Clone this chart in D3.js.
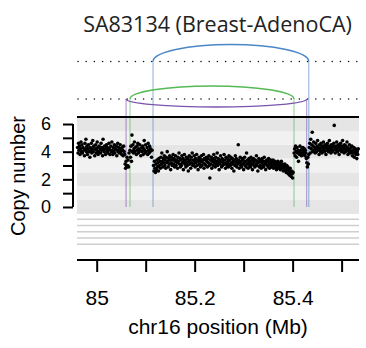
<!DOCTYPE html>
<html>
<head>
<meta charset="utf-8">
<script src="https://cdn.jsdelivr.net/npm/d3@7"></script>
<style>
  body { margin: 0; background: #fff; }
  svg { display: block; }
</style>
</head>
<body>
<svg id="chart" width="366" height="348"></svg>
<script>
// copy number estimates, [position Mb, copy number]
const cnLeft = [
  [84.961,4.3],[84.962,3.9],[84.963,4.6],[84.964,4.1],[84.965,4.4],[84.966,3.8],[84.967,4.2],[84.968,4.7],
  [84.969,4.0],[84.970,4.5],[84.971,3.9],[84.972,4.3],[84.974,4.1],[84.975,3.7],[84.976,4.6],[84.977,4.2],
  [84.978,4.9],[84.979,4.0],[84.980,4.4],[84.981,3.8],[84.982,4.2],[84.983,4.5],[84.985,4.0],[84.986,3.6],
  [84.987,4.3],[84.988,4.1],[84.989,4.6],[84.990,3.9],[84.991,4.2],[84.992,4.8],[84.993,4.0],[84.994,4.4],
  [84.996,3.7],[84.997,4.2],[84.998,4.5],[84.999,3.9],[85.000,4.1],[85.001,4.7],[85.002,4.3],[85.003,3.8],
  [85.004,4.0],[85.005,4.4],[85.007,4.2],[85.008,3.9],[85.009,4.6],[85.010,4.1],[85.011,4.3],[85.012,3.7],
  [85.013,4.9],[85.014,4.2],[85.015,4.0],[85.016,4.4],[85.018,3.8],[85.019,4.2],[85.020,4.5],[85.021,4.0],
  [85.022,4.3],[85.023,3.9],[85.024,4.1],[85.025,4.6],[85.026,4.2],[85.027,3.8],[85.029,4.4],[85.030,4.0],
  [85.031,4.7],[85.032,4.1],[85.033,3.8],[85.034,4.3],[85.035,4.0],[85.036,4.5],[85.037,3.9],[85.038,4.2],
  [85.040,4.4],[85.041,3.7],[85.042,4.1],[85.043,4.6],[85.044,4.0],[85.045,4.3],[85.046,3.9],[85.047,4.2],
  [85.048,4.5],[85.049,4.0],[85.051,3.8],[85.052,4.3],[85.053,4.1],[85.054,3.7],[85.055,4.4],[85.056,4.0]
];
const cnDip = [
  [85.057,3.8],[85.058,3.1],[85.059,2.8],[85.060,3.3],[85.061,2.9],[85.062,3.6],[85.063,3.0],[85.064,3.4],
  [85.065,2.9],[85.066,3.9]
];
const cnLeft2 = [
  [85.068,4.1],[85.069,3.6],[85.070,4.4],[85.071,3.3],[85.072,5.2],[85.073,4.0],[85.074,4.5],[85.075,3.9],
  [85.076,4.2],[85.077,4.7],[85.078,4.0],[85.079,4.3],[85.081,3.8],[85.082,4.4],[85.083,4.1],[85.084,4.6],
  [85.085,3.9],[85.086,4.2],[85.087,4.0],[85.088,4.5],[85.089,4.1],[85.090,3.7],[85.092,4.3],[85.093,4.0],
  [85.094,4.4],[85.095,3.8],[85.096,4.2],[85.097,4.8],[85.098,4.1],[85.099,3.9],[85.100,4.5],[85.101,4.0],
  [85.103,4.3],[85.104,3.8],[85.105,4.6],[85.106,4.1],[85.107,3.9],[85.108,4.4],[85.109,4.0],[85.110,4.2],
  [85.112,3.6],[85.113,4.1]
];
const cnMid = [
  [85.116,3.0],[85.117,2.6],[85.118,3.3],[85.119,2.8],[85.120,2.5],[85.121,3.1],[85.122,2.7],[85.123,3.4],
  [85.124,2.9],[85.125,3.2],[85.126,2.6],[85.127,3.5],[85.128,3.0],[85.129,3.3],[85.130,2.8],[85.131,3.6],
  [85.132,3.1],[85.133,3.9],[85.134,3.3],[85.135,2.9],[85.136,3.5],[85.137,3.2],[85.138,3.7],[85.139,3.0],
  [85.140,3.4],[85.141,2.8],[85.142,3.6],[85.143,3.2],[85.144,4.0],[85.145,3.3],[85.146,2.9],[85.147,3.5],
  [85.148,3.1],[85.149,3.7],[85.150,3.4],[85.151,2.7],[85.152,3.2],[85.153,3.6],[85.154,3.0],[85.155,3.4],
  [85.156,3.8],[85.157,3.1],[85.158,3.5],[85.159,2.9],[85.160,3.3],[85.161,3.7],[85.162,3.0],[85.163,3.4],
  [85.164,3.2],[85.165,2.8],[85.166,3.6],[85.167,3.3],[85.168,3.9],[85.169,3.1],[85.170,3.5],[85.171,2.9],
  [85.172,3.4],[85.173,3.0],[85.174,3.7],[85.175,3.2],[85.176,3.5],[85.177,2.7],[85.178,3.3],[85.179,3.8],
  [85.180,3.1],[85.181,3.4],[85.182,2.9],[85.183,3.6],[85.184,3.2],[85.185,3.0],[85.186,3.5],[85.187,2.6],
  [85.188,3.3],[85.189,3.7],[85.190,3.1],[85.191,3.4],[85.192,2.8],[85.193,3.6],[85.194,3.2],[85.195,3.9],
  [85.196,3.0],[85.197,3.4],[85.198,3.1],[85.199,3.7],[85.200,3.3],[85.201,2.9],[85.202,3.5],[85.203,3.2],
  [85.204,3.8],[85.205,3.0],[85.206,3.4],[85.207,2.7],[85.208,3.3],[85.209,3.6],[85.210,3.1],[85.211,3.5],
  [85.212,2.9],[85.213,3.3],[85.214,3.7],[85.215,3.0],[85.216,3.4],[85.217,3.2],[85.218,3.8],[85.219,2.8],
  [85.220,3.5],[85.221,3.1],[85.222,3.4],[85.223,3.0],[85.224,3.6],[85.225,3.3],[85.226,2.9],[85.227,3.5],
  [85.228,3.2],[85.229,3.7],[85.230,3.0],[85.231,2.1],[85.232,3.4],[85.233,3.1],[85.234,3.6],[85.235,2.8],
  [85.236,3.3],[85.237,3.5],[85.238,3.0],[85.239,3.8],[85.240,3.2],[85.241,3.4],[85.242,2.9],[85.243,3.6],
  [85.244,3.1],[85.245,3.3],[85.246,3.9],[85.247,3.0],[85.248,3.5],[85.249,3.2],[85.250,2.7],[85.251,3.4],
  [85.252,3.1],[85.253,3.7],[85.254,3.3],[85.255,2.9],[85.256,3.5],[85.257,3.0],[85.258,3.4],[85.259,3.2],
  [85.260,3.8],[85.261,3.1],[85.262,3.4],[85.263,2.8],[85.264,3.6],[85.265,3.2],[85.266,3.0],[85.267,3.5],
  [85.268,3.3],[85.269,2.9],[85.270,3.7],[85.271,3.1],[85.272,3.4],[85.273,3.0],[85.274,3.6],[85.275,3.2],
  [85.276,2.8],[85.277,3.5],[85.278,3.1],[85.279,3.3],[85.280,2.6],[85.281,3.4],[85.282,3.0],[85.283,3.7],
  [85.284,3.2],[85.285,3.5],[85.286,2.9],[85.287,3.3],[85.288,3.1],[85.289,4.5],[85.290,3.4],[85.291,2.8],
  [85.292,3.2],[85.293,3.6],[85.294,3.0],[85.295,3.3],[85.296,2.9],[85.297,3.5],[85.298,3.1],[85.299,3.4],
  [85.300,2.7],[85.301,3.2],[85.302,3.6],[85.303,3.0],[85.304,3.3],[85.305,2.9],[85.306,3.9],[85.307,3.1],
  [85.308,3.4],[85.309,2.8],[85.310,3.2],[85.311,3.5],[85.312,3.0],[85.313,3.3],[85.314,2.9],[85.315,3.6],
  [85.316,3.1],[85.317,3.4],[85.318,2.7],[85.319,3.2],[85.320,3.5],[85.321,3.0],[85.322,3.3],[85.323,2.9],
  [85.324,3.4],[85.325,3.1],[85.326,3.7],[85.327,3.0],[85.328,3.3],[85.329,2.6],[85.330,3.2],[85.331,3.5],
  [85.332,2.9],[85.333,3.3],[85.334,3.0],[85.335,3.4],[85.336,2.8],[85.337,3.2],[85.338,3.5],[85.339,3.0],
  [85.340,3.3],[85.341,2.9],[85.342,3.6],[85.343,3.1],[85.344,3.3],[85.345,2.7],[85.346,3.2],[85.347,3.4],
  [85.348,3.0],[85.349,3.3],[85.350,2.9],[85.351,3.5],[85.352,3.1],[85.353,2.8],[85.354,3.2],[85.355,3.4],
  [85.356,3.0],[85.357,3.3],[85.358,2.9],[85.359,3.1],[85.360,3.4],[85.361,2.8],[85.362,3.2],[85.363,3.0],
  [85.364,3.3],[85.365,2.9],[85.366,3.1],[85.367,2.7],[85.368,3.2],[85.369,3.0],[85.370,3.3],[85.371,2.8],
  [85.372,3.1],[85.373,2.9],[85.374,3.2],[85.375,2.7],[85.376,3.0],[85.377,3.3],[85.378,2.8],[85.379,3.1],
  [85.380,2.9],[85.381,2.6],[85.382,3.0],[85.383,2.8],[85.384,3.1],[85.385,2.7],[85.386,2.9],[85.387,2.5],
  [85.388,3.0],[85.389,2.7],[85.390,2.9],[85.391,2.4],[85.392,2.8],[85.393,2.6],[85.394,2.3],[85.395,2.8],
  [85.396,2.5],[85.397,2.2],[85.398,2.6],[85.399,2.4],[85.400,2.1],[85.401,2.5]
];
const cnRight = [
  [85.403,3.9],[85.404,4.2],[85.405,3.7],[85.406,4.4],[85.407,4.0],[85.408,3.6],[85.409,4.3],[85.410,3.9],
  [85.411,4.1],[85.412,3.3],[85.413,4.0],[85.414,3.8],[85.415,4.4],[85.416,3.9],[85.417,4.1],[85.418,3.7],
  [85.419,4.2],[85.420,3.9],[85.421,4.3],[85.422,3.8],[85.423,4.0],[85.424,4.2],[85.425,3.7],[85.426,4.1],
  [85.427,3.9],[85.428,3.5],[85.429,3.2],[85.430,2.9],[85.431,3.6],[85.432,3.1],[85.433,3.8],[85.434,4.3],
  [85.435,4.6],[85.436,3.9],[85.437,4.9],[85.438,4.2],[85.439,4.5],[85.440,5.4],[85.441,4.0],[85.442,4.4],
  [85.443,4.7],[85.444,4.1],[85.445,4.3],[85.446,3.9],[85.447,4.6],[85.448,4.2],[85.449,4.0],[85.450,4.4],
  [85.451,4.8],[85.452,4.1],[85.453,4.3],[85.454,3.8],[85.455,4.5],[85.456,4.2],[85.457,4.0],[85.458,4.6],
  [85.459,4.3],[85.460,3.9],[85.461,4.4],[85.462,4.1],[85.463,4.7],[85.464,4.2],[85.465,4.0],[85.466,4.5],
  [85.467,4.3],[85.468,3.8],[85.469,4.4],[85.470,4.1],[85.471,4.6],[85.472,4.2],[85.473,4.0],[85.474,4.4],
  [85.475,4.8],[85.476,4.1],[85.477,4.3],[85.478,3.9],[85.479,4.5],[85.480,4.2],[85.481,4.0],[85.482,4.4],
  [85.483,4.1],[85.484,4.6],[85.485,5.9],[85.486,4.3],[85.487,3.9],[85.488,4.4],[85.489,4.1],[85.490,4.7],
  [85.491,4.2],[85.492,4.0],[85.493,4.5],[85.494,4.3],[85.495,3.8],[85.496,4.4],[85.497,4.1],[85.498,4.6],
  [85.499,4.2],[85.500,4.0],[85.501,4.4],[85.502,4.8],[85.503,4.1],[85.504,4.3],[85.505,3.9],[85.506,4.5],
  [85.507,4.2],[85.508,4.0],[85.509,4.4],[85.510,4.1],[85.511,4.7],[85.512,4.3],[85.513,3.8],[85.514,4.2],
  [85.515,4.0],[85.516,4.5],[85.517,4.1],[85.518,3.9],[85.519,4.3],[85.520,4.0],[85.521,4.4],[85.522,3.7],
  [85.523,4.1],[85.524,3.9],[85.525,4.3],[85.526,3.6],[85.527,4.0],[85.528,4.2],[85.529,3.8],[85.530,4.1],
  [85.531,3.5],[85.532,4.0],[85.533,3.8],[85.534,4.2]
];

// structural variants
const svType = ["dup", "del", "inv"];
const svStart = [85.1150, 85.0680, 85.0600];
const svEnd = [85.4330, 85.4028, 85.4286];
const svRow = ["upper", "lower", "lower"];
const svRows = ["upper", "lower"];

const xTicks = [85, 85.1, 85.2, 85.3, 85.4, 85.5];
const xTickLabels = ["85", "", "85.2", "", "85.4", ""];
const yTicks = [0, 1, 2, 3, 4, 5, 6];
const yTickLabels = ["0", "", "2", "", "4", "", "6"];
const cnBands = [0, 1, 2, 3, 4, 5, 6];
const emptyTrackRows = [1, 2, 3, 4, 5];

const title = "SA83134 (Breast-AdenoCA)";
const xLabel = "chr16 position (Mb)";
const yLabel = "Copy number";

const svg = d3.select("#chart");
const sans = "'Liberation Sans', Arial, Helvetica, sans-serif";

const x = d3.scaleLinear().domain([84.9598, 85.5355]).range([77, 359]);
const y = d3.scaleLinear().domain([-0.5, 6.5]).range([213.9, 117.1]);
const rowY = d3.scalePoint().domain(svRows).range([61.5, 99]);
const trackY = d3.scalePoint().domain(emptyTrackRows).range([219.3, 244.3]);

const svColor = d3.scaleOrdinal(svType, ["#4a86c8", "#55b955", "#7b54ad"]);
const arcHeight = { dup: -17, del: -13, inv: 8 };

// background bands
svg.append("g")
  .selectAll("rect")
  .data(cnBands)
  .join("rect")
  .attr("x", x.range()[0])
  .attr("width", x.range()[1] - x.range()[0])
  .attr("y", d => y(d + 0.5))
  .attr("height", d => y(d - 0.5) - y(d + 0.5))
  .attr("fill", d => d % 2 === 0 ? "#e5e5e5" : "#f1f1f1");

// empty track lines below
svg.append("g")
  .selectAll("line")
  .data(emptyTrackRows)
  .join("line")
  .attr("x1", x.range()[0])
  .attr("x2", x.range()[1])
  .attr("y1", d => trackY(d))
  .attr("y2", d => trackY(d))
  .attr("stroke", "#cfcfcf")
  .attr("stroke-width", 1.6);

// dotted sv baselines
svg.append("g")
  .selectAll("line")
  .data(svRows)
  .join("line")
  .attr("x1", x.range()[0] + 1)
  .attr("x2", x.range()[1])
  .attr("y1", d => rowY(d))
  .attr("y2", d => rowY(d))
  .attr("stroke", "#111")
  .attr("stroke-width", 1.6)
  .attr("stroke-linecap", "round")
  .attr("stroke-dasharray", "0,8.2");

const svs = svType.map((t, i) => ({ type: t, start: svStart[i], end: svEnd[i], row: svRow[i] }));

// vertical breakpoint lines
const vg = svg.append("g");
svs.forEach(d => {
  [d.start, d.end].forEach(p => {
    vg.append("line")
      .attr("x1", x(p)).attr("x2", x(p))
      .attr("y1", rowY(d.row)).attr("y2", y(0))
      .attr("stroke", svColor(d.type))
      .attr("stroke-opacity", 0.5)
      .attr("stroke-width", 1.3);
  });
});

// arcs
svg.append("g")
  .selectAll("path")
  .data(svs)
  .join("path")
  .attr("fill", "none")
  .attr("stroke", d => svColor(d.type))
  .attr("stroke-width", 1.4)
  .attr("d", d => {
    const x0 = x(d.start), x1 = x(d.end), yy = rowY(d.row);
    const h = arcHeight[d.type];
    const rx = (x1 - x0) / 2;
    return `M${x0},${yy} A${rx},${Math.abs(h)} 0 0 ${h < 0 ? 1 : 0} ${x1},${yy}`;
  });

// top border of the copy number panel
svg.append("line")
  .attr("x1", x.range()[0]).attr("x2", x.range()[1])
  .attr("y1", y(6.5)).attr("y2", y(6.5))
  .attr("stroke", "#000").attr("stroke-width", 2);

// copy number points
const points = [].concat(cnLeft, cnDip, cnLeft2, cnMid, cnRight);
svg.append("g")
  .selectAll("circle")
  .data(points)
  .join("circle")
  .attr("cx", d => x(d[0]))
  .attr("cy", d => y(d[1]))
  .attr("r", 1.8)
  .attr("fill", "#000");

// y axis
const yAxis = svg.append("g").attr("transform", "translate(73,0)")
  .call(d3.axisLeft(y).tickValues(yTicks).tickSize(10).tickPadding(12)
    .tickFormat((d, i) => yTickLabels[i]));
yAxis.select(".domain").attr("d", `M0,${y(0)}V${y(6)}`).attr("stroke-width", 2).attr("stroke", "#000");
yAxis.selectAll(".tick line").attr("stroke-width", 2).attr("stroke", "#000");
yAxis.selectAll(".tick text").attr("font-family", sans).attr("font-size", 18).attr("fill", "#000");

// x axis
const xAxis = svg.append("g").attr("transform", "translate(0,260)")
  .call(d3.axisBottom(x).tickValues(xTicks).tickSize(12).tickPadding(18)
    .tickFormat((d, i) => xTickLabels[i]));
xAxis.select(".domain").attr("d", `M${x.range()[0]},0H${x.range()[1]}`).attr("stroke-width", 2).attr("stroke", "#000");
xAxis.selectAll(".tick line").attr("stroke-width", 2).attr("stroke", "#000");
xAxis.selectAll(".tick text").attr("font-family", sans).attr("font-size", 21).attr("fill", "#000");

// labels
svg.append("text")
  .attr("x", 217.5).attr("y", 32)
  .attr("text-anchor", "middle")
  .attr("font-family", "'Open Sans', 'Noto Sans', sans-serif")
  .attr("font-size", 21.5)
  .attr("fill", "#222")
  .text(title);

svg.append("text")
  .attr("x", 218).attr("y", 334)
  .attr("text-anchor", "middle")
  .attr("font-family", sans)
  .attr("font-size", 21)
  .attr("fill", "#000")
  .text(xLabel);

svg.append("text")
  .attr("transform", "translate(25,176) rotate(-90)")
  .attr("text-anchor", "middle")
  .attr("font-family", sans)
  .attr("font-size", 20)
  .attr("fill", "#000")
  .text(yLabel);
</script>
</body>
</html>
